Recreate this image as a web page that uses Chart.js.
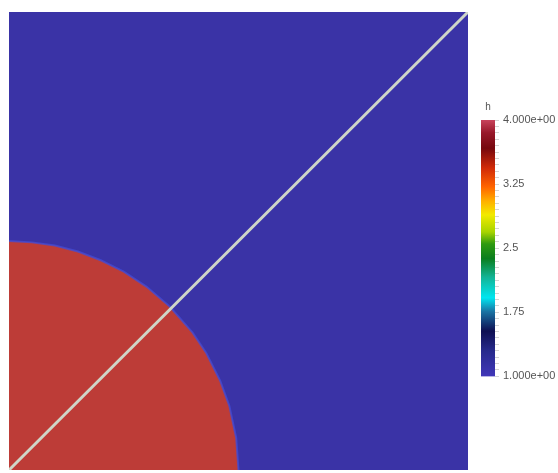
<!DOCTYPE html>
<html>
<head>
<meta charset="utf-8">
<script src="https://cdn.jsdelivr.net/npm/chart.js@4/dist/chart.umd.min.js"></script>
<style>
  html, body { margin: 0; padding: 0; background: #ffffff; }
  body { width: 558px; height: 473px; position: relative; overflow: hidden; }
  #fieldWrap { position: absolute; left: 9px; top: 12px; width: 459px; height: 458px; }
  #barWrap { position: absolute; left: 481px; top: 101px; width: 100px; height: 286px; }
</style>
</head>
<body>
<div id="fieldWrap"><canvas id="field"></canvas></div>
<div id="barWrap"><canvas id="bar"></canvas></div>
<script>
// Field h on the unit square: h = 4 inside the quarter disc, h = 1 elsewhere.
const fieldName = 'h';
const hInside = 4;
const hOutside = 1;

// Edge of the h = 4 region (domain coordinates)
const edgeX = [0, 0.05, 0.10, 0.15, 0.20, 0.25, 0.30, 0.35, 0.40, 0.43, 0.46, 0.48, 0.495, 0.50];
const edgeY = [0.50, 0.497, 0.49, 0.477, 0.458, 0.433, 0.40, 0.357, 0.30, 0.255, 0.195, 0.14, 0.07, 0];

// Sampling line across the domain
const lineX = [0, 1];
const lineY = [0, 1];

// Colour legend
const rangeMin = 1;
const rangeMax = 4;
const legendTicks = [1, 1.75, 2.5, 3.25, 4];
const legendTickLabels = ['1.000e+00', '1.75', '2.5', '3.25', '4.000e+00'];
const minorTickCount = 40;
const mapValues = [1.0, 1.30, 1.53, 1.76, 1.92, 2.16, 2.38, 2.55, 2.69, 2.89, 3.05, 3.22, 3.44, 3.67, 3.85, 4.0];
const mapColors = ['#4137b9', '#272a8c', '#0e0f52', '#1a74a4', '#00e6f0', '#12b496', '#0a7e1e', '#2f9a10',
                   '#a8d400', '#f2ea00', '#ffb000', '#ff6400', '#d02a08', '#76080e', '#98182a', '#c8445c'];

const lowColor = '#3a33a6';
const highColor = '#bd3c37';

const edgePoints = edgeX.map((x, i) => ({ x: x, y: edgeY[i] }));
const linePoints = lineX.map((x, i) => ({ x: x, y: lineY[i] }));

new Chart(document.getElementById('field'), {
  type: 'line',
  data: {
    datasets: [
      {
        label: 'line',
        data: linePoints,
        borderColor: '#cfd6c8',
        borderWidth: 3,
        pointRadius: 0,
        fill: false
      },
      {
        label: fieldName + ' = ' + hInside,
        data: edgePoints,
        borderColor: 'rgba(66, 76, 216, 0.75)',
        borderWidth: 2,
        backgroundColor: highColor,
        pointRadius: 0,
        fill: 'origin',
        tension: 0
      },
      {
        label: fieldName + ' = ' + hOutside,
        data: [{ x: 0, y: 1 }, { x: 1, y: 1 }],
        borderWidth: 0,
        borderColor: lowColor,
        backgroundColor: lowColor,
        pointRadius: 0,
        fill: 'origin'
      }
    ]
  },
  options: {
    responsive: true,
    maintainAspectRatio: false,
    animation: false,
    layout: { padding: 0 },
    plugins: { legend: { display: false }, tooltip: { enabled: false } },
    scales: {
      x: { type: 'linear', min: 0, max: 1, display: false },
      y: { type: 'linear', min: 0, max: 1, display: false }
    }
  }
});

new Chart(document.getElementById('bar'), {
  type: 'bar',
  data: {
    labels: [fieldName],
    datasets: [{
      data: [[rangeMin, rangeMax]],
      barPercentage: 1,
      categoryPercentage: 1,
      borderWidth: 0,
      backgroundColor: (ctx) => {
        const chart = ctx.chart;
        if (!chart.chartArea) return mapColors[0];
        const ys = chart.scales.y;
        const g = chart.ctx.createLinearGradient(0, ys.getPixelForValue(rangeMin), 0, ys.getPixelForValue(rangeMax));
        mapValues.forEach((v, i) => g.addColorStop((v - rangeMin) / (rangeMax - rangeMin), mapColors[i]));
        return g;
      }
    }]
  },
  options: {
    responsive: true,
    maintainAspectRatio: false,
    animation: false,
    layout: { padding: { top: 0, bottom: 10, left: 0, right: 0 } },
    plugins: { legend: { display: false }, tooltip: { enabled: false } },
    scales: {
      x: {
        position: 'top',
        grid: { display: false },
        border: { display: false },
        ticks: { display: false },
        title: {
          display: true,
          text: fieldName,
          color: '#555555',
          font: { family: 'Liberation Sans, Arial, sans-serif', size: 10 },
          padding: { top: 0, bottom: 1 }
        },
        afterFit: (s) => { s.height = 19; }
      },
      y: {
        position: 'right',
        min: rangeMin,
        max: rangeMax,
        afterBuildTicks: (s) => {
          const t = [];
          for (let i = 0; i <= minorTickCount; i++) {
            t.push({ value: rangeMin + (rangeMax - rangeMin) * i / minorTickCount });
          }
          s.ticks = t;
        },
        afterFit: (s) => { s.width = 86; },
        grid: {
          drawOnChartArea: false,
          drawTicks: true,
          tickLength: 4,
          tickColor: '#d4d4d4',
          lineWidth: 1
        },
        border: { display: false },
        ticks: {
          autoSkip: false,
          padding: 4,
          color: '#555555',
          font: { family: 'Liberation Sans, Arial, sans-serif', size: 11 },
          callback: (v) => {
            const k = legendTicks.findIndex((t) => Math.abs(t - v) < 1e-6);
            return k >= 0 ? legendTickLabels[k] : '';
          }
        }
      }
    }
  }
});
</script>
</body>
</html>
